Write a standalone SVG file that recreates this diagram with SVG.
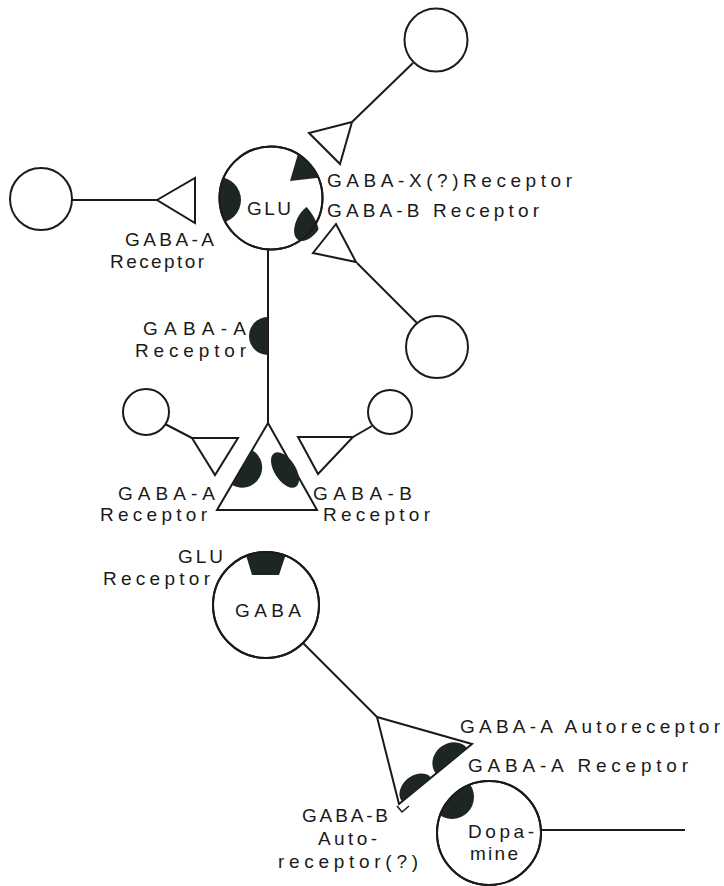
<svg xmlns="http://www.w3.org/2000/svg" width="724" height="886" viewBox="0 0 724 886">
<style>
.ln{stroke:#1a1a1a;stroke-width:2;fill:none}
.nd{fill:#fff;stroke:#1a1a1a;stroke-width:2}
.rc{fill:#1e2621}
.t{font-family:"Liberation Sans",Arial,sans-serif;font-size:19px;fill:#1a1a1a}
</style>
<defs>
<clipPath id="cGlu"><circle cx="271" cy="198" r="51.5"/></clipPath>
<clipPath id="cGaba"><circle cx="266" cy="605" r="53"/></clipPath>
<clipPath id="cDopa"><circle cx="489" cy="833" r="52"/></clipPath>
</defs>
<rect width="724" height="886" fill="#fff"/>
<g id="connectors">
<line class="ln" x1="413" y1="63" x2="352" y2="122"/>
<line class="ln" x1="72" y1="200" x2="157" y2="200"/>
<line class="ln" x1="357" y1="263" x2="417" y2="323"/>
<line class="ln" x1="268" y1="250" x2="268" y2="423"/>
<line class="ln" x1="165" y1="424" x2="192" y2="438"/>
<line class="ln" x1="372" y1="426" x2="353" y2="437"/>
<line class="ln" x1="303" y1="643" x2="377" y2="717"/>
<line class="ln" x1="541" y1="830" x2="685" y2="830"/>
</g>
<g id="glu-neuron">
<circle class="nd" cx="271" cy="198" r="51.5"/>
<circle class="rc" cx="218" cy="200" r="23" clip-path="url(#cGlu)"/>
<polygon class="rc" points="290,181 300,147 342,147 342,175" clip-path="url(#cGlu)"/>
<ellipse class="rc" cx="309" cy="222" rx="21" ry="12" transform="rotate(-59 309 222)" clip-path="url(#cGlu)"/>
<circle class="ln" cx="271" cy="198" r="51.5"/>
<text class="t" x="247" y="215" textLength="44">GLU</text>
</g>
<g id="top-right-neuron">
<circle class="nd" cx="436" cy="40" r="31.5"/>
<polygon class="nd" points="352,122 309,133 340,164"/>
</g>
<g id="left-neuron">
<circle class="nd" cx="41" cy="199" r="31"/>
<polygon class="nd" points="157,200 195,178 195,223"/>
</g>
<g id="mid-right-neuron">
<circle class="nd" cx="437" cy="347" r="31"/>
<polygon class="nd" points="313,253 336,224 356,262"/>
</g>
<g id="axon-receptor">
<path class="rc" d="M268,317 A19,19 0 0 0 268,355 Z"/>
</g>
<g id="glu-terminal">
<polygon class="nd" points="268,423 217,510 317,510"/>
<path class="rc" d="M252,450 A20,20 0 0 1 232,485 Z"/>
<ellipse class="rc" cx="285" cy="470" rx="20" ry="10.5" transform="rotate(57 285 470)"/>
</g>
<g id="small-left-neuron">
<circle class="nd" cx="146" cy="412" r="23"/>
<polygon class="nd" points="192,438 238,438 215,475"/>
</g>
<g id="small-right-neuron">
<circle class="nd" cx="390" cy="412" r="22"/>
<polygon class="nd" points="298,437 353,437 318,474"/>
</g>
<g id="gaba-neuron">
<circle class="nd" cx="266" cy="605" r="53"/>
<polygon class="rc" points="243,545 252,575 279,575 289,545" clip-path="url(#cGaba)"/>
<circle class="ln" cx="266" cy="605" r="53"/>
<text class="t" x="235" y="617" textLength="66">GABA</text>
</g>
<g id="gaba-terminal">
<polygon class="nd" points="377,717 472,744 399,804"/>
<polyline class="ln" style="stroke-width:1.5" points="397,806 402,812 409,806"/>
<path class="rc" d="M467,748 A19.5,17 -39 0 0 436,773.6 Z"/>
<path class="rc" d="M431,777.5 A17.5,13 -39 0 0 402,801.5 Z"/>
</g>
<g id="dopamine-neuron">
<circle class="nd" cx="489" cy="833" r="52"/>
<circle class="rc" cx="452" cy="797" r="22" clip-path="url(#cDopa)"/>
<circle class="ln" cx="489" cy="833" r="52"/>
<text class="t" x="468" y="838" textLength="66">Dopa-</text>
<text class="t" x="470" y="860" textLength="48">mine</text>
</g>
<g id="labels">
<text class="t" x="327" y="187" textLength="245">GABA-X(?)Receptor</text>
<text class="t" x="327" y="217" textLength="212">GABA-B Receptor</text>
<text class="t" x="125" y="246" textLength="89">GABA-A</text>
<text class="t" x="110" y="268" textLength="94">Receptor</text>
<text class="t" x="143" y="335" textLength="103">GABA-A</text>
<text class="t" x="135" y="357" textLength="111">Receptor</text>
<text class="t" x="118" y="500" textLength="97">GABA-A</text>
<text class="t" x="100" y="521" textLength="107">Receptor</text>
<text class="t" x="313" y="500" textLength="99">GABA-B</text>
<text class="t" x="323" y="521" textLength="107">Receptor</text>
<text class="t" x="178" y="563" textLength="45">GLU</text>
<text class="t" x="103" y="585" textLength="107">Receptor</text>
<text class="t" x="460" y="733" textLength="260">GABA-A Autoreceptor</text>
<text class="t" x="468" y="772" textLength="220">GABA-A Receptor</text>
<text class="t" x="302" y="822" textLength="86">GABA-B</text>
<text class="t" x="318" y="845" textLength="59">Auto-</text>
<text class="t" x="278" y="868" textLength="140">receptor(?)</text>
</g>
</svg>
